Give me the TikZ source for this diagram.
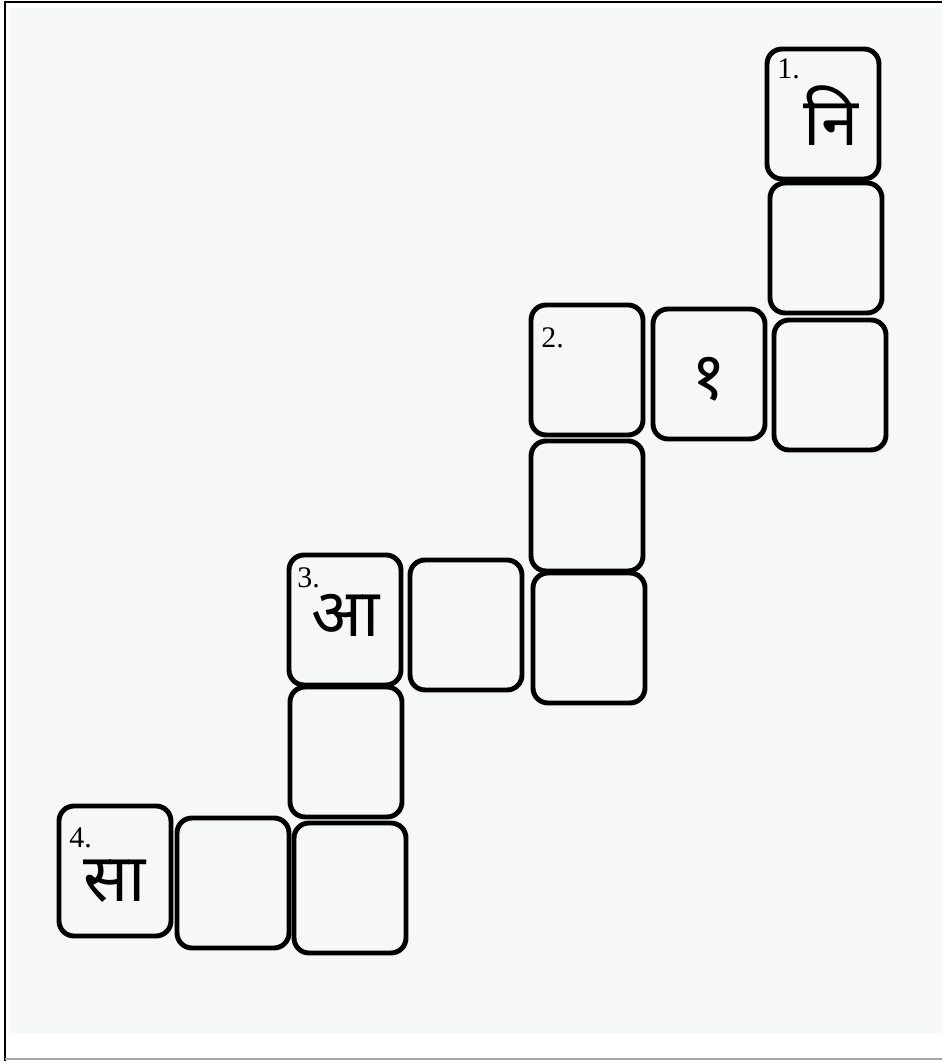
\documentclass[tikz,border=0pt]{standalone}
\usepackage{fontspec}
\setmainfont{Liberation Serif}
\newfontfamily\deva[Script=Devanagari]{Noto Sans}
\usetikzlibrary{positioning}

\definecolor{paper}{HTML}{F6F7F7}

\begin{document}
\begin{tikzpicture}[
        node distance=0.1cm,
        cell/.style={draw, line width=2.8pt, rounded corners=0.3cm, minimum width=2.24cm, minimum height=2.6cm, inner sep=0pt, outer sep=0pt},
        cellnum/.style={anchor=north west, inner sep=0pt, xshift=0.2cm, font=\fontsize{17}{17}\selectfont},
        glyph/.style={inner sep=0pt, font=\deva\fontsize{38}{38}\selectfont}
    ]
    \useasboundingbox (0,0) rectangle (18.84,21.22);
    \fill[paper] (0.2,0.56) rectangle (18.84,21.06);
    \draw[line width=1.6pt] (0.1,0) -- (0.1,21.18) -- (18.84,21.18);
    \draw[gray!70, line width=1pt] (0.1,0.04) -- (18.84,0.04);

    % 1 down
    \node[cell, label={[cellnum, yshift=-0.18cm]north west:1.}, label={[glyph, xshift=0.16cm, yshift=-0.04cm]center:नि}] (ni) at (16.46,18.94) {};
    \node[cell, below=0.08cm of ni, xshift=0.06cm] (c2) {};
    \node[cell, below=0.14cm of c2, xshift=0.08cm] (c3) {};

    % 2 across / down
    \node[cell, left=0.18cm of c3, yshift=0.22cm, label={[glyph, yshift=-0.1cm]center:१}] (sh) {};
    \node[cell, left=0.2cm of sh, yshift=0.08cm, label={[cellnum, yshift=-0.44cm]north west:2.}] (b1) {};
    \node[cell, below=0.12cm of b1] (b2) {};
    \node[cell, below=0.04cm of b2, xshift=0.04cm] (b3) {};

    % 3 across / down
    \node[cell, left=0.22cm of b3, yshift=0.26cm] (am) {};
    \node[cell, left=0.18cm of am, yshift=0.1cm, label={[cellnum, xshift=-0.04cm, yshift=-0.24cm]north west:3.}, label={[glyph, xshift=0.02cm, yshift=0.1cm]center:आ}] (aa) {};
    \node[cell, below=0.04cm of aa, xshift=0.02cm] (a2) {};
    \node[cell, below=0.12cm of a2, xshift=0.08cm] (a3) {};

    % 4 across
    \node[cell, left=0.1cm of a3, yshift=0.1cm] (dm) {};
    \node[cell, left=0.12cm of dm, yshift=0.24cm, label={[cellnum, yshift=-0.42cm]north west:4.}, label={[glyph, yshift=-0.2cm]center:सा}] (sa) {};

\end{tikzpicture}
\end{document}
